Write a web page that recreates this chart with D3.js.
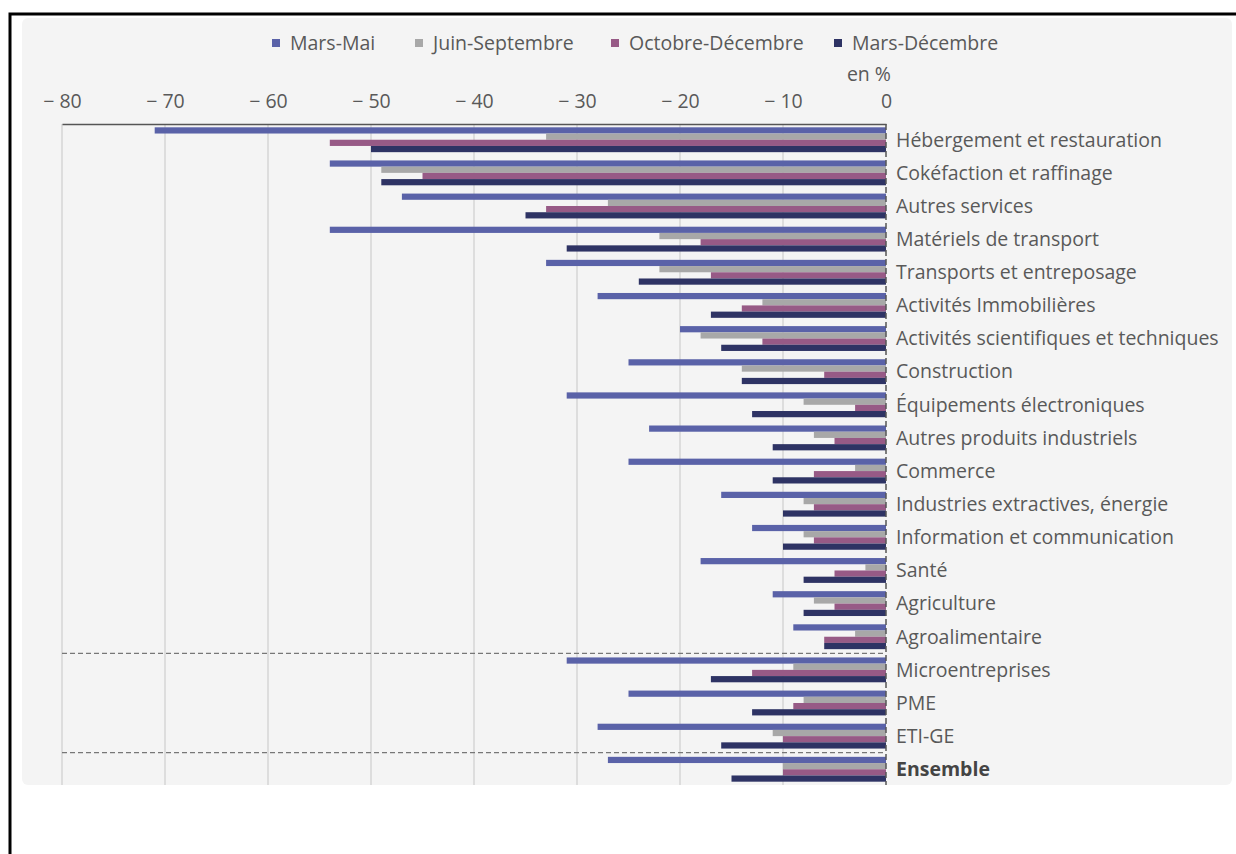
<!DOCTYPE html>
<html>
<head>
<meta charset="utf-8">
<script src="https://cdn.jsdelivr.net/npm/d3@7"></script>
<style>
  body { margin: 0; background: #fff; }
  svg { display: block; font-family: "Open Sans", sans-serif; }
</style>
</head>
<body>
<svg></svg>
<script>
const categories = [
    "Hébergement et restauration", "Cokéfaction et raffinage", "Autres services",
    "Matériels de transport", "Transports et entreposage", "Activités Immobilières",
    "Activités scientifiques et techniques", "Construction", "Équipements électroniques",
    "Autres produits industriels", "Commerce", "Industries extractives, énergie",
    "Information et communication", "Santé", "Agriculture", "Agroalimentaire",
    "Microentreprises", "PME", "ETI-GE", "Ensemble"
];
const seriesNames = ["Mars-Mai", "Juin-Septembre", "Octobre-Décembre", "Mars-Décembre"];
const marsMai    = [-71, -54, -47, -54, -33, -28, -20, -25, -31, -23, -25, -16, -13, -18, -11, -9, -31, -25, -28, -27];
const juinSept   = [-33, -49, -27, -22, -22, -12, -18, -14, -8, -7, -3, -8, -8, -2, -7, -3, -9, -8, -11, -10];
const octDec     = [-54, -45, -33, -18, -17, -14, -12, -6, -3, -5, -7, -7, -7, -5, -5, -6, -13, -9, -10, -10];
const marsDec    = [-50, -49, -35, -31, -24, -17, -16, -14, -13, -11, -11, -10, -10, -8, -8, -6, -17, -13, -16, -15];
const xTicks = [-80, -70, -60, -50, -40, -30, -20, -10, 0];
const separators = ["Agroalimentaire", "ETI-GE"];

const svgWidth = 1236;
const svgHeight = 854;
const colors = ["#5a62a8", "#a8a8a8", "#975a86", "#2e3364"];
const textColor = "#595959";
const fontSize = "19.5px";

const svg = d3.select("svg")
    .attr("width", svgWidth)
    .attr("height", svgHeight);

// frame + panel
svg.append("rect")
    .attr("x", 22).attr("y", 18).attr("width", 1210).attr("height", 767)
    .attr("rx", 6).attr("fill", "#f4f4f4");
svg.append("rect")
    .attr("x", 10).attr("y", 14).attr("width", 1240).attr("height", 860)
    .attr("fill", "none").attr("stroke", "#000").attr("stroke-width", 3);

const x = d3.scaleLinear().domain([-80, 0]).range([62, 886]);
const y = d3.scaleBand().domain(categories).range([124, 785])
    .paddingInner(0.25).paddingOuter(0.1);
const ySub = d3.scaleBand().domain(seriesNames).range([0, y.bandwidth()]);

const rows = categories.map((c, i) => ({
    cat: c,
    values: [marsMai[i], juinSept[i], octDec[i], marsDec[i]]
}));

// gridlines
svg.append("g").selectAll("line")
    .data(xTicks.slice(0, -1))
    .enter().append("line")
    .attr("x1", d => x(d)).attr("x2", d => x(d))
    .attr("y1", 124).attr("y2", 785)
    .attr("stroke", "#d6d6d6").attr("stroke-width", 1.5);

// top axis
const axis = svg.append("g")
    .attr("transform", "translate(0,124)")
    .call(d3.axisTop(x).tickValues(xTicks).tickSize(0).tickPadding(16)
        .tickFormat(d => d < 0 ? "\u2212 " + Math.abs(d) : d));
axis.select(".domain").attr("stroke", "#555").attr("stroke-width", 1.5);
axis.selectAll("text")
    .attr("fill", textColor)
    .style("font-size", fontSize)
    .style("font-family", "Open Sans");

svg.append("text")
    .attr("x", 891).attr("y", 81)
    .attr("text-anchor", "end")
    .attr("fill", textColor)
    .style("font-size", fontSize)
    .text("en %");

// bars
const group = svg.append("g").selectAll(".grp")
    .data(rows)
    .enter().append("g")
    .attr("class", "grp")
    .attr("transform", d => "translate(0," + y(d.cat) + ")");

group.selectAll("rect")
    .data(d => d.values.map((v, j) => ({ key: seriesNames[j], value: v, j: j })))
    .enter().append("rect")
    .attr("x", d => x(d.value))
    .attr("y", d => ySub(d.key))
    .attr("width", d => x(0) - x(d.value))
    .attr("height", ySub.bandwidth())
    .attr("fill", d => colors[d.j]);

// zero line
svg.append("line")
    .attr("x1", x(0)).attr("x2", x(0))
    .attr("y1", 124).attr("y2", 785)
    .attr("stroke", "#555").attr("stroke-width", 1.5)
    .attr("stroke-dasharray", "6,3");

// dashed separators
svg.append("g").selectAll("line")
    .data(separators)
    .enter().append("line")
    .attr("x1", x(-80)).attr("x2", x(0))
    .attr("y1", d => y(d) + y.bandwidth() + y.step() * y.paddingInner() / 2)
    .attr("y2", d => y(d) + y.bandwidth() + y.step() * y.paddingInner() / 2)
    .attr("stroke", "#777").attr("stroke-width", 1.2)
    .attr("stroke-dasharray", "5,3");

// category labels
svg.append("g").selectAll("text")
    .data(categories)
    .enter().append("text")
    .attr("x", 896)
    .attr("y", d => y(d) + y.bandwidth() / 2)
    .attr("dy", "0.35em")
    .attr("fill", d => d === "Ensemble" ? "#444" : textColor)
    .style("font-size", fontSize)
    .style("font-weight", d => d === "Ensemble" ? "bold" : "normal")
    .text(d => d);

// legend
const legendX = [272, 415, 611, 834];
const legend = svg.append("g").selectAll(".leg")
    .data(seriesNames)
    .enter().append("g")
    .attr("class", "leg")
    .attr("transform", (d, i) => "translate(" + legendX[i] + ",43)");
legend.append("rect")
    .attr("x", 0).attr("y", -4).attr("width", 8).attr("height", 8)
    .attr("fill", (d, i) => colors[i]);
legend.append("text")
    .attr("x", 18).attr("dy", "0.35em")
    .attr("fill", textColor)
    .style("font-size", fontSize)
    .text(d => d);
</script>
</body>
</html>
